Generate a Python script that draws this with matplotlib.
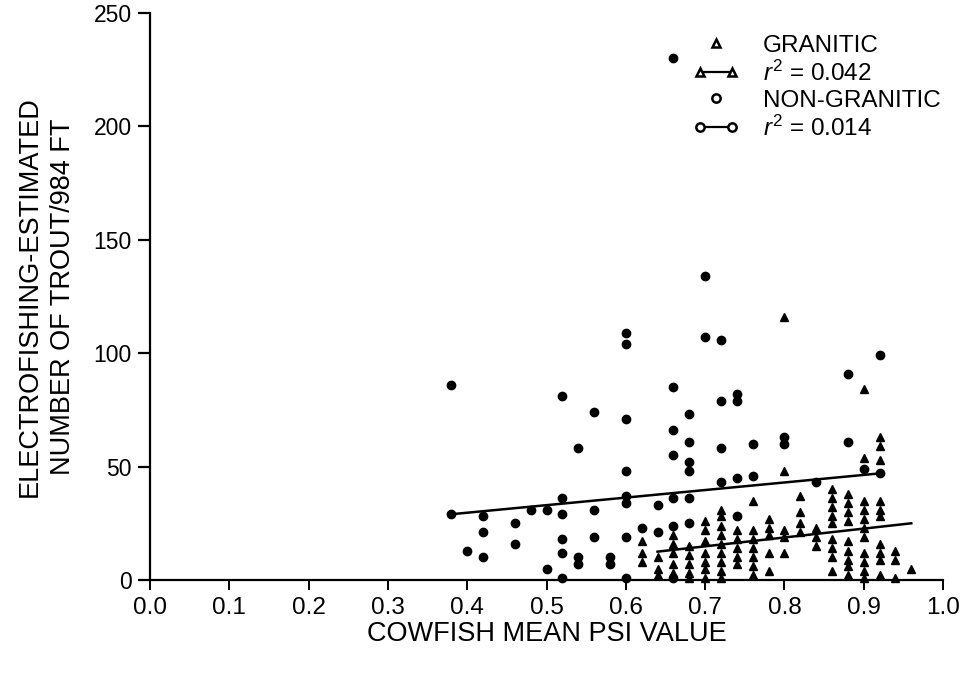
import matplotlib
matplotlib.use("Agg")
import matplotlib.pyplot as plt
from matplotlib.lines import Line2D
from matplotlib.legend_handler import HandlerLine2D

plt.rcParams['font.family'] = ['Liberation Sans', 'DejaVu Sans']
plt.rcParams['mathtext.fontset'] = 'custom'
plt.rcParams['mathtext.rm'] = 'Liberation Sans'
plt.rcParams['mathtext.it'] = 'Liberation Sans:italic'

# non-granitic streams (circles)
ng_psi = [0.38, 0.38, 0.40, 0.42, 0.42, 0.42, 0.46, 0.46, 0.48, 0.50, 0.50,
          0.52, 0.52, 0.52, 0.52, 0.52, 0.52, 0.54, 0.54, 0.54, 0.56, 0.56, 0.56,
          0.58, 0.58, 0.60, 0.60, 0.60, 0.60, 0.60, 0.60, 0.60, 0.60, 0.62,
          0.64, 0.64, 0.66, 0.66, 0.66, 0.66, 0.66, 0.66, 0.66,
          0.68, 0.68, 0.68, 0.68, 0.68, 0.68, 0.70, 0.70,
          0.72, 0.72, 0.72, 0.72, 0.74, 0.74, 0.74, 0.74, 0.76, 0.76,
          0.80, 0.80, 0.84, 0.88, 0.88, 0.90, 0.92, 0.92]
ng_trout = [86, 29, 13, 28, 21, 10, 25, 16, 31, 31, 5,
            81, 36, 29, 18, 12, 1, 58, 10, 7, 74, 31, 19,
            10, 7, 109, 104, 71, 48, 37, 34, 19, 1, 23,
            33, 21, 230, 85, 66, 55, 36, 24, 1,
            73, 61, 52, 48, 36, 25, 134, 107,
            106, 79, 58, 43, 82, 79, 45, 28, 60, 46,
            63, 60, 43, 91, 61, 49, 99, 47]

# granitic streams (triangles)
g_psi = [0.62, 0.62, 0.62, 0.64, 0.64, 0.64,
         0.66, 0.66, 0.66, 0.66, 0.66, 0.68, 0.68, 0.68, 0.68, 0.68,
         0.70, 0.70, 0.70, 0.70, 0.70, 0.70, 0.70,
         0.72, 0.72, 0.72, 0.72, 0.72, 0.72, 0.72, 0.72, 0.72,
         0.74, 0.74, 0.74, 0.74, 0.74,
         0.76, 0.76, 0.76, 0.76, 0.76, 0.76, 0.76,
         0.78, 0.78, 0.78, 0.78, 0.78, 0.80, 0.80, 0.80, 0.80, 0.80,
         0.82, 0.82, 0.82, 0.82, 0.84, 0.84, 0.84,
         0.86, 0.86, 0.86, 0.86, 0.86, 0.86, 0.86, 0.86, 0.86,
         0.88, 0.88, 0.88, 0.88, 0.88, 0.88, 0.88, 0.88, 0.88,
         0.90, 0.90, 0.90, 0.90, 0.90, 0.90, 0.90, 0.90, 0.90, 0.90, 0.90,
         0.92, 0.92, 0.92, 0.92, 0.92, 0.92, 0.92, 0.92, 0.92, 0.92,
         0.94, 0.94, 0.94, 0.96]
g_trout = [17, 12, 8, 10, 5, 2,
           20, 16, 12, 7, 3, 15, 11, 7, 3, 1,
           26, 22, 17, 12, 8, 5, 1,
           31, 28, 24, 20, 16, 12, 8, 4, 1,
           22, 18, 14, 10, 7,
           35, 22, 18, 14, 10, 6, 2,
           27, 23, 20, 12, 4, 116, 48, 22, 19, 12,
           37, 30, 25, 21, 23, 19, 15,
           40, 36, 32, 28, 25, 18, 14, 10, 4,
           38, 34, 30, 26, 17, 13, 9, 6, 2,
           84, 54, 35, 31, 27, 23, 19, 12, 8, 4, 1,
           63, 59, 53, 35, 31, 28, 16, 12, 9, 2,
           13, 9, 1, 5]

# fitted regression lines (end points)
g_fit_psi = [0.64, 0.96]
g_fit_trout = [12.5, 25]
ng_fit_psi = [0.38, 0.92]
ng_fit_trout = [29, 47]

fig = plt.figure(figsize=(9.67, 6.73), dpi=100)
ax = fig.add_axes([150 / 967, 93 / 673, 793 / 967, 567 / 673])

ax.plot(ng_psi, ng_trout, ls='none', marker='o', ms=6, color='black', clip_on=False)
ax.plot(g_psi, g_trout, ls='none', marker='^', ms=6, color='black', clip_on=False)
ax.plot(ng_fit_psi, ng_fit_trout, color='black', lw=1.8)
ax.plot(g_fit_psi, g_fit_trout, color='black', lw=1.8)

ax.set_xlim(0, 1.0)
ax.set_ylim(0, 250)
ax.set_xticks([i / 10 for i in range(11)])
ax.set_xticklabels([f"{i / 10:.1f}" for i in range(11)])
ax.set_yticks([0, 50, 100, 150, 200, 250])
for s in ['top', 'right']:
    ax.spines[s].set_visible(False)
for s in ['left', 'bottom']:
    ax.spines[s].set_linewidth(1.6)
ax.tick_params(axis='y', direction='out', length=9, width=1.6, labelsize=16.5, pad=4)
ax.tick_params(axis='x', direction='out', length=7, width=1.4, labelsize=17.5, pad=5)

ax.set_xlabel('COWFISH MEAN PSI VALUE', fontsize=19.5, labelpad=2)
ax.set_ylabel('ELECTROFISHING-ESTIMATED\nNUMBER OF TROUT/984 FT', fontsize=19.5,
              labelpad=13, linespacing=1.35)

h_g = Line2D([], [], ls='none', marker='^', ms=6, mfc='white', mec='black', mew=1.8)
h_gfit = Line2D([], [], color='black', lw=1.6, marker='^', ms=6, mfc='white', mec='black', mew=1.8)
h_ng = Line2D([], [], ls='none', marker='o', ms=6, mfc='white', mec='black', mew=1.8)
h_ngfit = Line2D([], [], color='black', lw=1.6, marker='o', ms=6, mfc='white', mec='black', mew=1.8)
ax.legend([h_g, h_gfit, h_ng, h_ngfit],
          ['GRANITIC', r'$r^2$ = 0.042', 'NON-GRANITIC', r'$r^2$ = 0.014'],
          handler_map={h_g: HandlerLine2D(numpoints=1), h_ng: HandlerLine2D(numpoints=1)},
          numpoints=2, frameon=False, fontsize=17.5, loc='upper left',
          bbox_to_anchor=(0.672, 0.979), borderaxespad=0, handlelength=1.9,
          handletextpad=1.0, labelspacing=0.16)

fig.savefig('out.png', dpi=100)
